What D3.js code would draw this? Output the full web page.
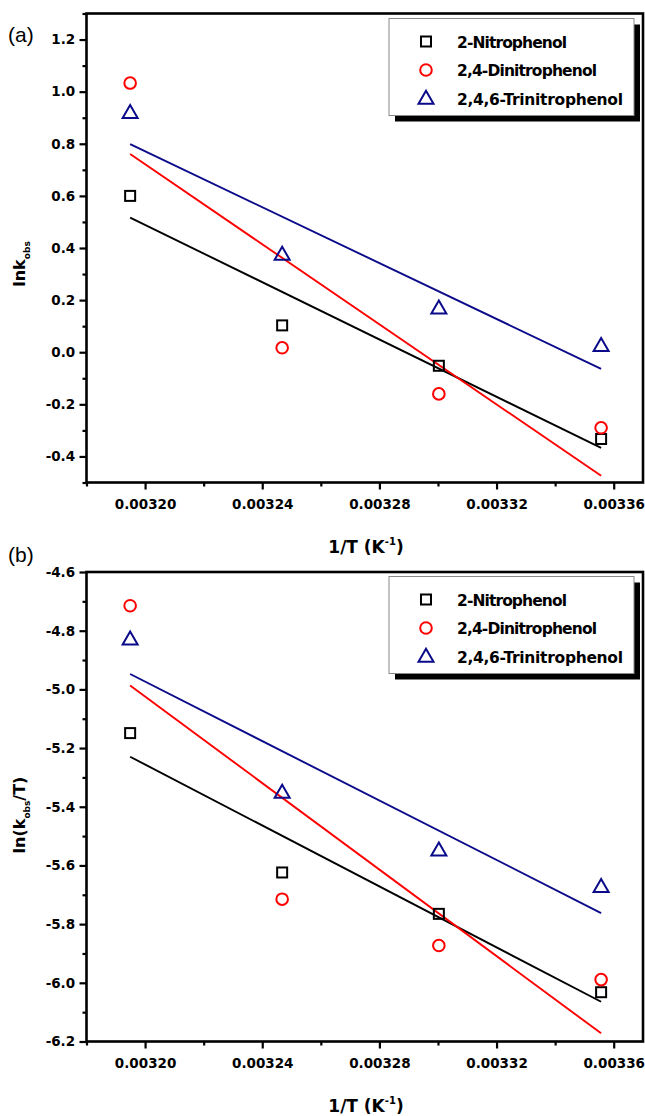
<!DOCTYPE html>
<html><head><meta charset="utf-8">
<script src="https://cdn.jsdelivr.net/npm/d3@7"></script>
<style>body{margin:0;background:#fff}svg{display:block}</style>
</head><body>
<svg id="c" width="645" height="1116"></svg>
<script>
// Data
const invT = [0.0031949, 0.0032468, 0.0033003, 0.0033557];
const seriesNames = ["2-Nitrophenol", "2,4-Dinitrophenol", "2,4,6-Trinitrophenol"];
const lnkA_nitro = [0.600, 0.103, -0.052, -0.333];
const lnkA_dinitro = [1.033, 0.017, -0.160, -0.290];
const lnkA_trinitro = [0.919, 0.375, 0.169, 0.025];
const lnkB_nitro = [-5.149, -5.624, -5.765, -6.032];
const lnkB_dinitro = [-4.715, -5.715, -5.873, -5.989];
const lnkB_trinitro = [-4.829, -5.352, -5.548, -5.673];
const xTicks = [0.00320, 0.00324, 0.00328, 0.00332, 0.00336];
const yTicksA = [-0.4, -0.2, 0.0, 0.2, 0.4, 0.6, 0.8, 1.0, 1.2];
const yTicksB = [-6.2, -6.0, -5.8, -5.6, -5.4, -5.2, -5.0, -4.8, -4.6];

const colors = ["#000000", "#ff0000", "#0a0a8a"];
const symbols = ["square", "circle", "triangle"];

const svg = d3.select("#c");
const F = "'DejaVu Sans', sans-serif";

function linfit(xs, ys) {
  const n = xs.length, mx = d3.mean(xs), my = d3.mean(ys);
  let sxy = 0, sxx = 0;
  for (let i = 0; i < n; i++) { sxy += (xs[i]-mx)*(ys[i]-my); sxx += (xs[i]-mx)**2; }
  const b = sxy / sxx; return x => my + b*(x - mx);
}

function drawPanel(cfg) {
  const {top, bottom, yDomain, yTicks, series, label, yTitle} = cfg;
  const left = 86.5, right = 643;
  const x = d3.scaleLinear().domain([0.00318, 0.00337]).range([left, right]);
  const y = d3.scaleLinear().domain(yDomain).range([bottom, top]);
  const g = svg.append("g");

  series.forEach((ys, i) => {
    const f = linfit(invT, ys);
    const x0 = invT[0], x1 = invT[invT.length-1];
    g.append("line").attr("x1", x(x0)).attr("y1", y(f(x0))).attr("x2", x(x1)).attr("y2", y(f(x1)))
      .attr("stroke", colors[i]).attr("stroke-width", 1.9);
  });
  series.forEach((ys, i) => {
    ys.forEach((v, j) => drawSym(g, symbols[i], x(invT[j]), y(v), colors[i]));
  });

  g.append("rect").attr("x", left).attr("y", top).attr("width", right-left).attr("height", bottom-top)
    .attr("fill", "none").attr("stroke", "#000").attr("stroke-width", 2.6);

  const xa = d3.axisBottom(x).tickValues(xTicks).tickSize(7).tickFormat(d3.format(".5f"));
  const xg = g.append("g").attr("transform", `translate(0,${bottom})`).call(xa);
  xg.select(".domain").remove();
  xg.selectAll("line").attr("stroke-width", 2.2);
  xg.selectAll("text").attr("font-family", F).attr("font-weight", "bold").attr("font-size", 13.5).attr("dy", "1.2em");
  const xMinor = d3.range(0, 10).map(k => 0.00318 + k*0.00002).filter(v => !xTicks.some(t => Math.abs(t-v) < 1e-9));
  const xm = d3.axisBottom(x).tickValues(xMinor).tickSize(4).tickFormat("");
  const xmg = g.append("g").attr("transform", `translate(0,${bottom})`).call(xm);
  xmg.select(".domain").remove(); xmg.selectAll("line").attr("stroke-width", 2.2);

  const fy = v => d3.format(".1f")(v).replace("\u2212", "-");
  const ya = d3.axisLeft(y).tickValues(yTicks).tickSize(7).tickFormat(fy);
  const yg = g.append("g").attr("transform", `translate(${left},0)`).call(ya);
  yg.select(".domain").remove();
  yg.selectAll("line").attr("stroke-width", 2.2);
  yg.selectAll("text").attr("font-family", F).attr("font-weight", "bold").attr("font-size", 13.5).attr("dx", "-0.1em");
  const yMinor = d3.range(0, 20).map(k => yDomain[0] + k*0.1)
    .filter(v => v <= yDomain[1] + 1e-9 && !yTicks.some(t => Math.abs(t-v) < 1e-6));
  const ym = d3.axisLeft(y).tickValues(yMinor).tickSize(4).tickFormat("");
  const ymg = g.append("g").attr("transform", `translate(${left},0)`).call(ym);
  ymg.select(".domain").remove(); ymg.selectAll("line").attr("stroke-width", 2.2);

  const xt = g.append("text").attr("x", 366).attr("y", bottom + 70).attr("text-anchor", "middle")
    .attr("font-family", F).attr("font-size", 17).attr("font-weight", 600);
  xt.append("tspan").text("1/T (K");
  xt.append("tspan").text("-1").attr("font-size", 10).attr("dy", -8);
  xt.append("tspan").text(")").attr("dy", 8);

  const yt = g.append("text").attr("transform", `translate(25,${cfg.yTitleY}) rotate(-90)`).attr("text-anchor", "middle")
    .attr("font-family", F).attr("font-size", 16).attr("font-weight", "bold");
  yTitle(yt);

  g.append("text").attr("x", 8).attr("y", cfg.labelY).attr("font-family", "'Liberation Sans', Arial, sans-serif")
    .attr("font-size", 21).text(label);

  const lx = 389, ly = top + cfg.legendDy, lw = 245, lh = 97;
  g.append("rect").attr("x", lx+6).attr("y", ly+6).attr("width", lw).attr("height", lh).attr("fill", "#000");
  g.append("rect").attr("x", lx).attr("y", ly).attr("width", lw).attr("height", lh).attr("fill", "#fff")
    .attr("stroke", "#888").attr("stroke-width", 1);
  seriesNames.forEach((nm, i) => {
    const ry = ly + 23 + i*28.5;
    drawSym(g, symbols[i], lx + 37, ry, colors[i]);
    g.append("text").attr("x", lx + 68).attr("y", ry + 6).attr("font-family", F).attr("font-size", 15.5)
      .attr("font-weight", 600).attr("textLength", i === 2 ? 166 : (i === 1 ? 140 : 110)).text(nm);
  });
}

function drawSym(g, s, cx, cy, col) {
  if (s === "square") {
    g.append("rect").attr("x", cx-5).attr("y", cy-5).attr("width", 10).attr("height", 10)
      .attr("fill", "none").attr("stroke", col).attr("stroke-width", 2);
  } else if (s === "circle") {
    g.append("circle").attr("cx", cx).attr("cy", cy).attr("r", 5.8)
      .attr("fill", "none").attr("stroke", col).attr("stroke-width", 2);
  } else {
    const h = 13, w = 15;
    g.append("path").attr("d", `M${cx},${cy-h*0.6}L${cx+w/2},${cy+h*0.4}L${cx-w/2},${cy+h*0.4}Z`)
      .attr("fill", "none").attr("stroke", col).attr("stroke-width", 2);
  }
}

drawPanel({
  top: 13.5, bottom: 482.5, yDomain: [-0.5, 1.3], yTicks: yTicksA,
  series: [lnkA_nitro, lnkA_dinitro, lnkA_trinitro], label: "(a)", labelY: 42, legendDy: 5, yTitleY: 264,
  yTitle: t => { t.append("tspan").text("lnk"); t.append("tspan").text("obs").attr("font-size", 9).attr("dy", 5); }
});
drawPanel({
  top: 572, bottom: 1041.5, yDomain: [-6.2, -4.6], yTicks: yTicksB,
  series: [lnkB_nitro, lnkB_dinitro, lnkB_trinitro], label: "(b)", labelY: 562, legendDy: 4.5, yTitleY: 815,
  yTitle: t => { t.append("tspan").text("ln(k"); t.append("tspan").text("obs").attr("font-size", 9).attr("dy", 5);
    t.append("tspan").text("/T)").attr("dy", -5); }
});
</script>
</body></html>
